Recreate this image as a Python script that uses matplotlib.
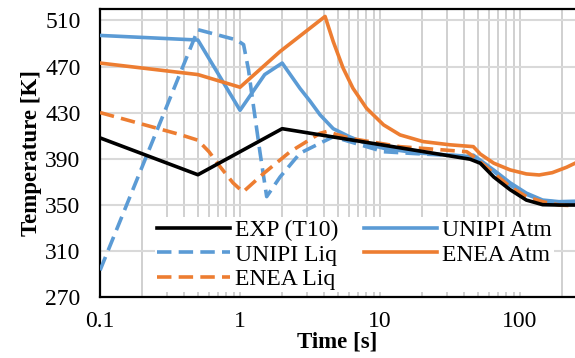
import numpy as np
import matplotlib.pyplot as plt
from matplotlib.ticker import FixedLocator, LogLocator, NullFormatter

plt.rcParams['font.family'] = ['Liberation Serif', 'DejaVu Serif']

# EXP (T10)
t_exp = [0.1, 0.5, 2.0, 44, 52, 65, 85, 111, 145, 190, 247]
T_exp = [408, 376, 416, 389.5, 386, 374, 363, 354, 350, 349.7, 349.7]

# UNIPI Atm
t_ua = [0.1, 0.5, 1.0, 1.5, 2.0, 2.68, 3.16, 3.73, 4.63, 6.05, 8.0, 10.6, 18.3, 41.6, 46.4,
        65, 85, 111, 145, 190, 247]
T_ua = [497, 493, 432, 463, 473, 451, 440, 428, 416, 409, 403, 399, 395, 392, 393,
        380, 369, 360, 354, 352.6, 353]

# UNIPI Liq
t_ul = [0.1, 0.5, 0.95, 1.06, 1.15, 1.21, 1.39, 1.55, 1.93, 2.68, 3.73, 4.63, 10.6, 20, 46.4,
        65, 85, 111, 145, 190, 247]
T_ul = [293, 502, 493, 489, 467, 447, 395, 357, 374, 394.7, 403.4, 409, 396, 394, 392,
        379, 367, 359, 353.5, 352, 352]

# ENEA Atm
t_ea = [0.1, 0.5, 1.0, 1.93, 4.05, 4.63, 5.45, 6.4, 8.0, 10.6, 13.9, 20.3, 31.6, 46.4,
        52, 65, 85, 111, 137, 170, 215, 247]
T_ea = [473, 463, 452, 483, 513.5, 491.7, 468.6, 451.2, 433.8, 419.3, 410.6, 404.8, 402, 400.4,
        394, 386, 380.2, 376.7, 375.8, 377.8, 382.5, 386]

# ENEA Liq
t_el = [0.1, 0.37, 0.5, 0.6, 0.72, 0.89, 1.05, 1.47, 2.28, 3.73, 4.15, 6.05, 13.9, 41.6, 46.4,
        65, 85, 111, 145, 190, 247]
T_el = [430, 411, 406, 396, 383, 369, 361, 377, 396, 412, 413.5, 407.7, 400.4, 396, 392,
        377.3, 365.6, 357, 352.6, 349.7, 349]

blue = '#5B9BD5'
orange = '#ED7D31'

fig = plt.figure(figsize=(5.75, 3.58), dpi=100)
ax = fig.add_axes([0.174, 0.171, 0.826, 0.804])

lw = 2.6
ax.plot(t_exp, T_exp, color='black', lw=lw, label='EXP (T10)', zorder=5)
ax.plot(t_ul, T_ul, color=blue, lw=lw, ls=(0, (4, 2)), label='UNIPI Liq', zorder=3)
ax.plot(t_ua, T_ua, color=blue, lw=lw, label='UNIPI Atm', zorder=3)
ax.plot(t_ea, T_ea, color=orange, lw=lw, label='ENEA Atm', zorder=3)
ax.plot(t_el, T_el, color=orange, lw=lw, ls=(0, (4, 2)), label='ENEA Liq', zorder=4)

ax.set_xscale('log')
ax.set_xlim(0.1, 247)
ax.set_ylim(270, 520)
ax.yaxis.set_major_locator(FixedLocator(np.arange(270, 511, 40)))
ax.xaxis.set_major_locator(FixedLocator([0.1, 1, 10, 100]))
ax.xaxis.set_minor_locator(LogLocator(base=10, subs=np.arange(2, 10)))
ax.xaxis.set_minor_formatter(NullFormatter())
ax.set_xticklabels(['0.1', '1', '10', '100'])

ax.grid(True, which='both', axis='x', color='#c8c8c8', lw=1.2, zorder=0)
ax.grid(True, which='major', axis='y', color='#d9d9d9', lw=1.5, zorder=0)
ax.set_axisbelow(True)

ax.tick_params(which='both', length=0, labelsize=17, pad=14)
ax.tick_params(axis='x', pad=10)

for s in ['left', 'bottom', 'top']:
    ax.spines[s].set_linewidth(1.6)
ax.spines['right'].set_visible(False)

ax.set_xlabel('Time [s]', fontsize=16.5, fontweight='bold', labelpad=0)
ax.set_ylabel('Temperature [K]', fontsize=16.5, fontweight='bold', labelpad=2)

handles, labels = ax.get_legend_handles_labels()
order = [0, 1, 4, 2, 3]
leg = ax.legend([handles[i] for i in order], [labels[i] for i in order],
                ncol=2, loc='lower left', bbox_to_anchor=(0.115, 0.015),
                fontsize=17, frameon=True, fancybox=False, edgecolor='none',
                facecolor='white', framealpha=1, handlelength=3.1,
                handletextpad=0.2, columnspacing=1.1, labelspacing=0.12,
                borderpad=0.1, borderaxespad=0)
leg.set_zorder(6)

fig.savefig('out.png', dpi=100)
